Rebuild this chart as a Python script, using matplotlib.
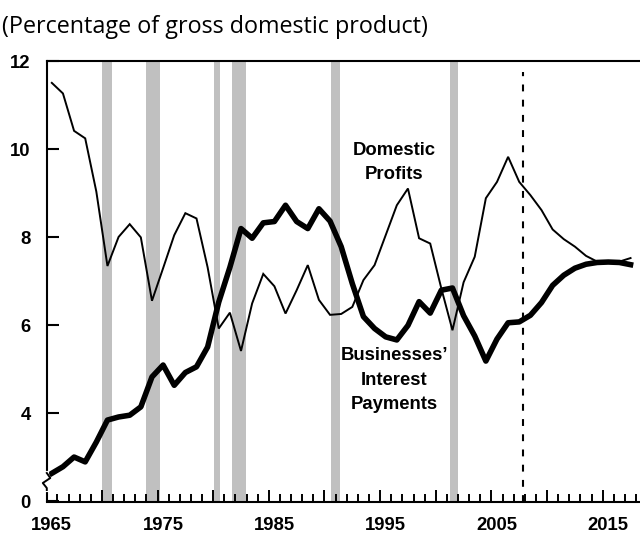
import numpy as np
import matplotlib
matplotlib.use("Agg")
import matplotlib.pyplot as plt
from matplotlib.lines import Line2D

years = list(range(1965, 2018))
domestic_profits = [11.51, 11.27, 10.42, 10.25, 9.04, 7.35, 8.01, 8.30, 8.00, 6.56,
                    7.30, 8.05, 8.55, 8.43, 7.32, 5.93, 6.29, 5.42, 6.50, 7.17,
                    6.89, 6.27, 6.80, 7.37, 6.58, 6.24, 6.26, 6.42, 7.03, 7.37,
                    8.05, 8.73, 9.11, 7.98, 7.86, 6.84, 5.89, 6.98, 7.56, 8.89,
                    9.26, 9.83, 9.26, 8.96, 8.62, 8.18, 7.96, 7.79, 7.58, 7.45,
                    7.43, 7.45, 7.53]
interest_payments = [2.64, 2.79, 3.01, 2.90, 3.35, 3.85, 3.92, 3.96, 4.15, 4.83,
                     5.10, 4.64, 4.93, 5.06, 5.51, 6.53, 7.32, 8.20, 7.98, 8.33,
                     8.36, 8.73, 8.36, 8.20, 8.65, 8.37, 7.79, 6.95, 6.20, 5.93,
                     5.74, 5.67, 6.00, 6.54, 6.28, 6.80, 6.85, 6.22, 5.76, 5.19,
                     5.69, 6.06, 6.08, 6.23, 6.52, 6.91, 7.14, 7.30, 7.39, 7.43,
                     7.44, 7.43, 7.38]
recession_starts = [1969.5, 1973.45, 1979.6, 1981.15, 1990.1, 2000.75]
recession_ends = [1970.4, 1974.75, 1980.15, 1982.45, 1990.85, 2001.5]
projection_start = 2007.35
y_ticks = [2, 4, 6, 8, 10, 12]
y_tick_labels = ["0", "4", "6", "8", "10", "12"]
x_label_years = [1965, 1975, 1985, 1995, 2005, 2015]

W, H = 640, 535
fig = plt.figure(figsize=(W / 100, H / 100), dpi=100)
left_px, right_px, top_px, bottom_px = 46.8, 640.0, 61.3, 501.5
ax = fig.add_axes([left_px / W, (H - bottom_px) / H,
                   (right_px - left_px) / W, (bottom_px - top_px) / H])

bold = dict(family=["Liberation Sans", "DejaVu Sans"], weight="bold", size=13.3)

for s, e in zip(recession_starts, recession_ends):
    ax.axvspan(s, e, color="#c0c0c0", lw=0, zorder=0)

ax.axvline(projection_start, ymin=0, ymax=0.975, color="black", lw=1.5,
           dashes=(3.3, 4.0), zorder=1)

ax.plot(years, domestic_profits, color="black", lw=1.4, zorder=3,
        solid_joinstyle="miter")
ax.plot(years, interest_payments, color="black", lw=4.0, zorder=4,
        solid_joinstyle="round")

ax.set_xlim(1964.55, 2017.85)
ax.set_ylim(2, 12)

for side in ["left", "bottom", "top"]:
    ax.spines[side].set_linewidth(1.5)
ax.spines["right"].set_visible(False)

ax.set_yticks(y_ticks)
ax.set_yticklabels(y_tick_labels, fontdict=bold)
ax.tick_params(axis="y", direction="in", length=8.8, width=1.5, pad=11.5)

ax.set_xticks(np.arange(1969.5, 2018, 5))
ax.set_xticks(np.arange(1965.5, 2018, 1), minor=True)
ax.tick_params(axis="x", which="major", direction="in", length=8.9, width=1.4,
               labelbottom=False)
ax.tick_params(axis="x", which="minor", direction="in", length=5.5, width=1.4)

sec = ax.secondary_xaxis("bottom")
sec.set_xticks(x_label_years)
sec.set_xticklabels([str(y) for y in x_label_years], fontdict=bold)
sec.tick_params(length=0, pad=11.5)
sec.spines["bottom"].set_visible(False)

ax.text(1995.75, 9.70, "Domestic\nProfits", ha="center", va="center",
        linespacing=1.5, zorder=5, **bold)
ax.text(1995.75, 4.757, "Businesses\u2019\nInterest\nPayments", ha="center",
        va="center", linespacing=1.55, zorder=5, **bold)

fig.text(2 / W, 1 - 27 / H, "(Percentage of gross domestic product)",
         ha="left", va="center", family=["Open Sans", "DejaVu Sans"], size=16.8)

# axis break on the left spine
x0 = left_px
def px(x, y):
    return (x, H - y)
mask = Line2D(*zip(px(x0, 473), px(x0, 490)), color="white", lw=3,
              transform=None, zorder=10, clip_on=False)
zig_pts = [px(x0, 473), px(x0 + 3.5, 478), px(x0 - 4, 483), px(x0, 488), px(x0, 490)]
zig = Line2D(*zip(*zig_pts), color="black", lw=1.4, transform=None, zorder=11,
             clip_on=False)
fig.add_artist(mask)
fig.add_artist(zig)

fig.savefig("out.png", dpi=100)
